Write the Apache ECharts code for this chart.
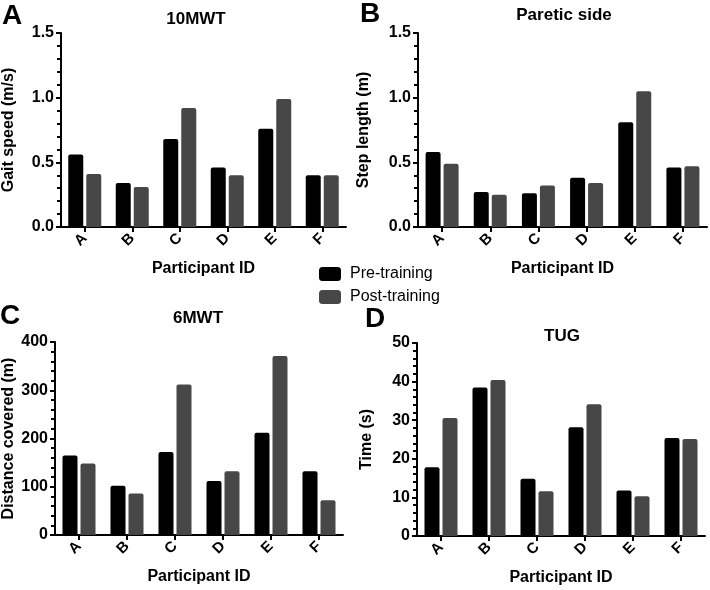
<!DOCTYPE html>
<html>
<head>
    <meta charset="utf-8">
    <title>Gait outcomes</title>
    <script src="https://cdn.jsdelivr.net/npm/echarts@6/dist/echarts.min.js"></script>
</head>
<body style="margin:0">
<div id="main" style="width: 710px;height:590px;"></div>
<script type="text/javascript">
    // participants and measured values (pre / post training)
    const participants = ['A', 'B', 'C', 'D', 'E', 'F'];
    const speedPre = [0.56, 0.34, 0.68, 0.46, 0.76, 0.40];
    const speedPost = [0.41, 0.31, 0.92, 0.40, 0.99, 0.40];
    const stepPre = [0.58, 0.27, 0.26, 0.38, 0.81, 0.46];
    const stepPost = [0.49, 0.25, 0.32, 0.34, 1.05, 0.47];
    const distPre = [165, 102, 172, 112, 212, 132];
    const distPost = [148, 86, 312, 132, 371, 72];
    const tugPre = [17.8, 38.5, 14.8, 28.2, 11.8, 25.4];
    const tugPost = [30.6, 40.4, 11.6, 34.1, 10.3, 25.1];

    const FONT = '"Liberation Sans", Arial, sans-serif';
    const PRE = '#000000';
    const POST = '#474747';

    function xAxis(idx) {
        return {
            type: 'category', gridIndex: idx, data: participants,
            name: 'Participant ID', nameLocation: 'middle', nameGap: 34,
            nameTextStyle: {fontFamily: FONT, fontWeight: 'bold', fontSize: 16, color: '#000'},
            axisLine: {lineStyle: {color: '#000', width: 2}},
            axisTick: {show: true, alignWithLabel: true, length: 5, lineStyle: {color: '#000', width: 2}},
            axisLabel: {rotate: 45, margin: 9, fontFamily: FONT, fontWeight: 'bold', fontSize: 15, color: '#000'}
        };
    }

    function yAxis(idx, name, max, interval, gap, digits) {
        return {
            type: 'value', gridIndex: idx, min: 0, max: max, interval: interval,
            name: name, nameLocation: 'middle', nameGap: gap,
            nameTextStyle: {fontFamily: FONT, fontWeight: 'bold', fontSize: 16, color: '#000'},
            axisLine: {show: true, lineStyle: {color: '#000', width: 2}},
            axisTick: {show: true, length: 5, lineStyle: {color: '#000', width: 2}},
            minorTick: {show: true, splitNumber: 5, length: 4, lineStyle: {color: '#000', width: 2}},
            splitLine: {show: false},
            axisLabel: {
                margin: 7, fontFamily: FONT, fontWeight: 'bold', fontSize: 16, color: '#000',
                formatter: v => v.toFixed(digits)
            }
        };
    }

    function bars(idx, pre, post) {
        const common = {type: 'bar', xAxisIndex: idx, yAxisIndex: idx, barWidth: 15, barGap: '20%'};
        return [
            Object.assign({name: 'Pre-training', data: pre, itemStyle: {color: PRE, borderRadius: [2, 2, 0, 0]}}, common),
            Object.assign({name: 'Post-training', data: post, itemStyle: {color: POST, borderRadius: [2, 2, 0, 0]}}, common)
        ];
    }

    function label(text, left, top, size) {
        return {
            text: text, left: left, top: top, padding: 0,
            textStyle: {fontFamily: FONT, fontWeight: 'bold', fontSize: size, color: '#000'}
        };
    }

    let myChart = echarts.init(document.getElementById('main'));
    myChart.setOption({
        animation: false,
        backgroundColor: '#fff',
        title: [
            label('A', 2, 2, 28), label('B', 360, 0, 28), label('C', 0, 302, 28), label('D', 365, 305, 28),
            Object.assign(label('10MWT', 196, 11, 17), {textAlign: 'center'}),
            Object.assign(label('Paretic side', 564, 7, 17), {textAlign: 'center'}),
            Object.assign(label('6MWT', 198, 310, 17), {textAlign: 'center'}),
            Object.assign(label('TUG', 562, 328, 17), {textAlign: 'center'})
        ],
        legend: {
            data: ['Pre-training', 'Post-training'],
            orient: 'vertical', left: 314, top: 261,
            itemWidth: 22, itemHeight: 14, itemGap: 7,
            icon: 'roundRect',
            textStyle: {fontFamily: FONT, fontSize: 16, color: '#000', padding: [0, 0, 0, 4]}
        },
        grid: [
            {left: 58, top: 33, width: 288, height: 194},
            {left: 418, top: 33, width: 289, height: 194},
            {left: 54, top: 342, width: 289, height: 193},
            {left: 417, top: 343, width: 288, height: 193}
        ],
        xAxis: [xAxis(0), xAxis(1), xAxis(2), xAxis(3)],
        yAxis: [
            yAxis(0, 'Gait speed (m/s)', 1.5, 0.5, 44, 1),
            yAxis(1, 'Step length (m)', 1.5, 0.5, 46, 1),
            yAxis(2, 'Distance covered (m)', 400, 100, 38, 0),
            yAxis(3, 'Time (s)', 50, 10, 42, 0)
        ],
        series: [].concat(
            bars(0, speedPre, speedPost),
            bars(1, stepPre, stepPost),
            bars(2, distPre, distPost),
            bars(3, tugPre, tugPost)
        )
    });
</script>
</body>
</html>
